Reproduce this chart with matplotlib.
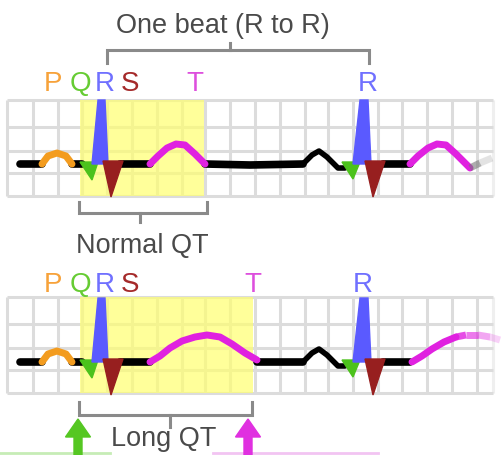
import matplotlib
matplotlib.use("Agg")
import matplotlib.pyplot as plt
from matplotlib.patches import Rectangle, FancyArrow

# ---- layout data (pixel units of the 501x455 picture) ----
grid_x = [7, 33, 58, 82, 107, 132, 157, 182, 205, 230, 255, 280, 305,
          328, 353, 378, 402, 427, 452, 477, 493]
grid_y_top = [100, 127, 151, 173, 196]
panel_shift = 197          # second strip sits this far below the first
base_top = 164
base_bottom = 362
qt_end_top = 204
qt_end_bottom = 253

# ---- waveform pieces: x position, height above baseline ----
lead_x, lead_h = [20, 42], [0, 0]
p_x, p_h = [42, 48, 57, 66, 72], [0, 8, 11, 8, 0]
pq_x, pq_h = [72, 82], [0, 0]
st_x, st_h = [120, 150], [0, 0]

# QRS complex drawn as filled shapes
q_x, q_h = [80, 98, 92], [2, 2, -16]
r_x, r_h = [92, 98, 105, 108], [0, 64, 64, 0]
s_x, s_h = [103, 123, 111], [3, 3, -33]
q2_x, q2_h = [342, 360, 353], [2, 2, -15]
r2_x, r2_h = [353, 360, 368, 371], [0, 64, 64, 0]
s2_x, s2_h = [365, 385, 373], [3, 3, -33]

t_norm_x = [150, 158, 167, 176, 185, 195, 205]
t_norm_h = [0, 8, 16, 20, 19, 10, 0]
t_long_x = [150, 160, 170, 182, 195, 207, 220, 232, 245, 257]
t_long_h = [0, 6, 14, 21, 25, 27, 25, 18, 9, 2]

flat_norm_x, flat_norm_h = [205, 250, 303], [0, -1, 0]
flat_long_x, flat_long_h = [257, 303], [0, 0]
p2_x, p2_h = [303, 312, 319, 327, 338, 345], [0, 9, 13, 7, -4, -4]
st2_x, st2_h = [383, 410], [0, 0]
t2_norm_x = [410, 418, 428, 437, 446, 456, 470]
t2_norm_h = [0, 8, 16, 20, 19, 10, -4]
tail_norm_x, tail_norm_h = [470, 480, 492], [-4, 1, 6]
t2_long_x = [412, 422, 432, 444, 456]
t2_long_h = [0, 6, 13, 20, 25]
tail_long_x, tail_long_h = [456, 466, 478, 490, 500], [25, 27, 27, 25, 22]

# ---- labels ----
wave_letters = ["P", "Q", "R", "S"]
wave_letter_x = [53, 80, 105, 130]
t_label_x = [195, 253]
r2_label_x = [368, 363]
letter_y = [91, 292]

c_p = "#f39c1f"
c_q = "#4cc21c"
c_r = "#5a5aff"
c_s = "#971f1f"
c_t = "#e021e0"
c_txt = "#4a4a4a"
c_brk = "#8a8a8a"
letter_cols = ["#f7a23a", "#66cc33", "#7070ff", "#a52a2a"]

plt.rcParams["font.family"] = ["Liberation Sans", "DejaVu Sans"]

fig = plt.figure(figsize=(5.01, 4.55), dpi=100)
ax = fig.add_axes([0, 0, 1, 1])
ax.set_xlim(0, 501)
ax.set_ylim(455, 0)
ax.axis("off")


def draw_grid(y_rows, qt_end):
    for gx in grid_x:
        col = "#dcdcdc" if gx < 480 else "#efefef"
        ax.plot([gx, gx], [y_rows[0], y_rows[-1]], color=col, lw=2.2,
                zorder=1, solid_capstyle="butt")
    for gy in y_rows:
        ax.plot([grid_x[0], grid_x[-1]], [gy, gy], color="#dcdcdc", lw=2.2,
                zorder=1, solid_capstyle="butt")
    ax.add_patch(Rectangle((80, y_rows[0]), qt_end - 80,
                           y_rows[-1] - y_rows[0], facecolor="#ffff70",
                           alpha=0.7, edgecolor="none", zorder=2))


def piece(xs, hs, base, color, lw=5.5):
    ax.plot(xs, [base - h for h in hs], color=color, lw=lw,
            solid_joinstyle="round", solid_capstyle="round", zorder=4)


def shape(xs, hs, base, color):
    ax.fill(xs, [base - h for h in hs], color=color, lw=1, zorder=5)


def fading(xs, hs, base, color):
    n = len(xs) - 1
    for i in range(n):
        a = 1.0 - 0.8 * (i + 1) / n
        ax.plot(xs[i:i + 2], [base - hs[i], base - hs[i + 1]], color=color,
                lw=5, alpha=a, solid_capstyle="butt", zorder=4)


def draw_trace(base, tx, th, fx, fh, t2x, t2h, tlx, tlh, tail_col):
    piece(lead_x, lead_h, base, "black")
    piece(pq_x, pq_h, base, "black")
    piece(st_x, st_h, base, "black")
    piece(fx, fh, base, "black")
    piece(p2_x, p2_h, base, "black", lw=4)
    piece(st2_x, st2_h, base, "black")
    piece(p_x, p_h, base, c_p, lw=5)
    piece(tx, th, base, c_t, lw=5)
    piece(t2x, t2h, base, c_t, lw=5)
    fading(tlx, tlh, base, tail_col)
    shape(q_x, q_h, base, c_q)
    shape(q2_x, q2_h, base, c_q)
    shape(r_x, r_h, base, c_r)
    shape(r2_x, r2_h, base, c_r)
    shape(s_x, s_h, base, c_s)
    shape(s2_x, s2_h, base, c_s)


def bracket(x0, x1, y, tick, mid_x, mid_tick):
    ax.plot([x0, x0, x1, x1], [y + tick, y, y, y + tick], color=c_brk,
            lw=2.2, zorder=3, solid_joinstyle="miter")
    ax.plot([mid_x, mid_x], [y, y + mid_tick], color=c_brk, lw=2.2, zorder=3)


# strips
draw_grid(grid_y_top, qt_end_top)
draw_grid([g + panel_shift for g in grid_y_top], qt_end_bottom)
draw_trace(base_top, t_norm_x, t_norm_h, flat_norm_x, flat_norm_h,
           t2_norm_x, t2_norm_h, tail_norm_x, tail_norm_h, "#777777")
draw_trace(base_bottom, t_long_x, t_long_h, flat_long_x, flat_long_h,
           t2_long_x, t2_long_h, tail_long_x, tail_long_h, c_t)

# letters
for k in range(2):
    for ch, lx, lc in zip(wave_letters, wave_letter_x, letter_cols):
        ax.text(lx, letter_y[k], ch, color=lc, fontsize=20, ha="center",
                va="baseline", zorder=5)
    ax.text(t_label_x[k], letter_y[k], "T", color="#dd4fdd", fontsize=20,
            ha="center", va="baseline", zorder=5)
    ax.text(r2_label_x[k], letter_y[k], "R", color="#7070ff", fontsize=20,
            ha="center", va="baseline", zorder=5)

# brackets and titles
bracket(107, 369, 50, 13, 230, -7)
ax.text(223, 33, "One beat (R to R)", color=c_txt, fontsize=19.5,
        ha="center", va="baseline")
bracket(79, 207, 213, -11, 140, 9)
ax.text(142, 253, "Normal QT", color=c_txt, fontsize=19.5,
        ha="center", va="baseline")
bracket(79, 252, 415, -13, 170, 12)
ax.text(164, 446, "Long QT", color=c_txt, fontsize=19.5,
        ha="center", va="baseline")

# arrows pointing at start of Q and end of T
ax.plot([0, 110], [453, 453], color="#c6ecb6", lw=2, zorder=3)
ax.plot([213, 378], [453, 453], color="#f2c4f2", lw=2, zorder=3)
for ax_x, col in [(78, "#55c722"), (248, "#e030e0")]:
    ax.add_patch(FancyArrow(ax_x, 458, 0, -39, width=8, head_width=25,
                            head_length=18, length_includes_head=True,
                            color=col, zorder=6))

fig.savefig("out.png", dpi=100)
